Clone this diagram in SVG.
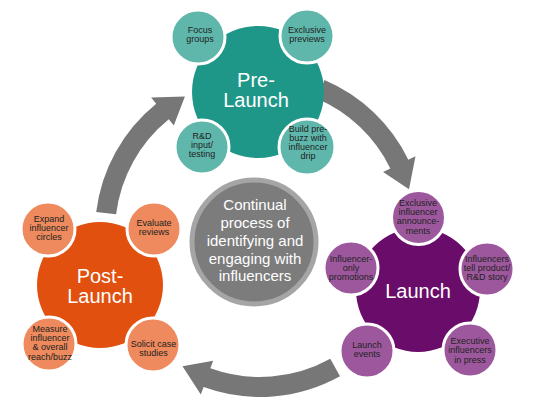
<svg xmlns="http://www.w3.org/2000/svg" width="540" height="417" viewBox="0 0 540 417">
<style>
.arrow{fill:#777777}
.main{stroke:none}
.small{stroke:#ffffff;stroke-width:3}
.t-pre{fill:#1f9788}
.s-pre{fill:#5fb7ac}
.t-lau{fill:#6a0c6a}
.s-lau{fill:#9d589d}
.t-post{fill:#e1500f}
.s-post{fill:#ee8a5d}
.big{font-family:"Liberation Sans",Arial,sans-serif;font-size:20px;fill:#ffffff;text-anchor:middle}
.sm{font-family:"Liberation Sans",Arial,sans-serif;font-size:9px;fill:#222222;text-anchor:middle}
.ctr{font-family:"Liberation Sans",Arial,sans-serif;font-size:15px;fill:#ffffff;text-anchor:middle}
</style>
<rect width="540" height="417" fill="#ffffff"/>
<g id="connectors">
<path class="arrow" d="M 96.2 211.9 A 165 165 0 0 1 156.2 103.8 L 151.1 97.6 L 184.9 96.4 L 173.8 125.5 L 168.8 119.3 A 145 145 0 0 0 116.1 214.3 Z"/>
<path class="arrow" d="M 324.5 80.1 A 165 165 0 0 1 408.3 159.7 L 415.5 156.2 L 409 189.3 L 383.1 171.9 L 390.3 168.4 A 145 145 0 0 0 316.7 98.5 Z"/>
<path class="arrow" d="M 340 376.3 A 165 165 0 0 1 203.6 387.1 L 200.8 394.6 L 182.5 366.2 L 213.1 360.7 L 210.4 368.3 A 145 145 0 0 0 330.3 358.8 Z"/>
</g>
<g id="pre-launch">
<circle class="main t-pre" cx="258" cy="92" r="66"/>
<text class="big" x="256" y="87">Pre-</text>
<text class="big" x="256" y="107">Launch</text>
</g>
<g id="focus-groups">
<circle class="small s-pre" cx="198" cy="37" r="27"/>
<text class="sm" x="200" y="33">Focus</text>
<text class="sm" x="200" y="42">groups</text>
</g>
<g id="exclusive-previews">
<circle class="small s-pre" cx="307" cy="36" r="27"/>
<text class="sm" x="307" y="33">Exclusive</text>
<text class="sm" x="307" y="42">previews</text>
</g>
<g id="rd-input">
<circle class="small s-pre" cx="202" cy="147" r="27"/>
<text class="sm" x="202" y="139">R&amp;D</text>
<text class="sm" x="202" y="148">input/</text>
<text class="sm" x="202" y="157">testing</text>
</g>
<g id="build-pre-buzz">
<circle class="small s-pre" cx="307" cy="147" r="28"/>
<text class="sm" x="308" y="132">Build pre-</text>
<text class="sm" x="308" y="141">buzz with</text>
<text class="sm" x="308" y="150">influencer</text>
<text class="sm" x="308" y="158.5">drip</text>
</g>
<g id="launch">
<circle class="main t-lau" cx="418" cy="290" r="62"/>
<text class="big" x="418" y="298">Launch</text>
</g>
<g id="exclusive-announcements">
<circle class="small s-lau" cx="418.5" cy="217.5" r="27"/>
<text class="sm" x="418" y="206">Exclusive</text>
<text class="sm" x="418" y="215">influencer</text>
<text class="sm" x="418" y="224">announce-</text>
<text class="sm" x="418" y="234">ments</text>
</g>
<g id="tell-story">
<circle class="small s-lau" cx="487" cy="269" r="27"/>
<text class="sm" x="487" y="262">Influencers</text>
<text class="sm" x="487" y="271">tell product/</text>
<text class="sm" x="487" y="280">R&amp;D story</text>
</g>
<g id="executive-influencers">
<circle class="small s-lau" cx="470" cy="350" r="27"/>
<text class="sm" x="470" y="344">Executive</text>
<text class="sm" x="470" y="353">influencers</text>
<text class="sm" x="470" y="362.5">in press</text>
</g>
<g id="launch-events">
<circle class="small s-lau" cx="367" cy="351" r="27"/>
<text class="sm" x="367" y="348">Launch</text>
<text class="sm" x="367" y="357">events</text>
</g>
<g id="influencer-only">
<circle class="small s-lau" cx="351" cy="268" r="27"/>
<text class="sm" x="351" y="262">Influencer-</text>
<text class="sm" x="351" y="271">only</text>
<text class="sm" x="351" y="280">promotions</text>
</g>
<g id="post-launch">
<circle class="main t-post" cx="100" cy="285" r="63"/>
<text class="big" x="100" y="283">Post-</text>
<text class="big" x="100" y="303">Launch</text>
</g>
<g id="expand-circles">
<circle class="small s-post" cx="48" cy="229" r="27"/>
<text class="sm" x="49" y="222">Expand</text>
<text class="sm" x="49" y="231">influencer</text>
<text class="sm" x="49" y="240">circles</text>
</g>
<g id="evaluate-reviews">
<circle class="small s-post" cx="154" cy="229" r="27"/>
<text class="sm" x="154" y="226">Evaluate</text>
<text class="sm" x="154" y="235">reviews</text>
</g>
<g id="measure">
<circle class="small s-post" cx="49" cy="344" r="27"/>
<text class="sm" x="50" y="332">Measure</text>
<text class="sm" x="50" y="341">influencer</text>
<text class="sm" x="50" y="350">&amp; overall</text>
<text class="sm" x="50" y="359.5">reach/buzz</text>
</g>
<g id="solicit">
<circle class="small s-post" cx="153" cy="345" r="27"/>
<text class="sm" x="153.5" y="347">Solicit case</text>
<text class="sm" x="153.5" y="356">studies</text>
</g>
<g id="center">
<circle cx="254" cy="242" r="62" fill="#7c7c7c" stroke="#a5a5a5" stroke-width="5"/>
<text class="ctr" x="255" y="210">Continual</text>
<text class="ctr" x="255" y="228">process of</text>
<text class="ctr" x="255" y="246">identifying and</text>
<text class="ctr" x="255" y="263.5">engaging with</text>
<text class="ctr" x="255" y="281">influencers</text>
</g>
</svg>
